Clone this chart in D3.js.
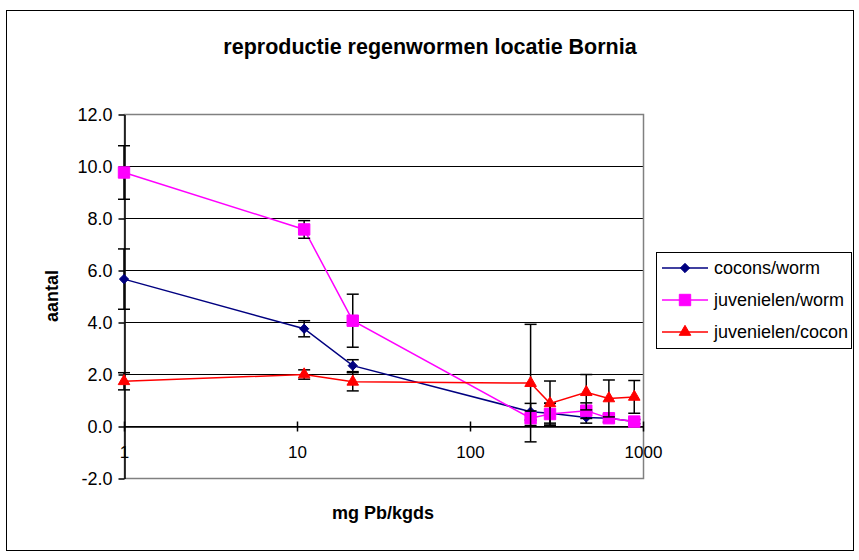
<!DOCTYPE html>
<html>
<head>
<meta charset="utf-8">
<script src="https://cdn.jsdelivr.net/npm/d3@7"></script>
<style>
  html, body { margin: 0; padding: 0; background: #fff; }
  svg text { font-family: Arial, "Liberation Sans", sans-serif; fill: #000; }
</style>
</head>
<body>
<svg id="chart" width="859" height="560"></svg>
<script>
// Lead concentration (mg Pb/kg dry soil) per sample
const concentrations = [1, 11, 21, 224, 290, 470, 635, 890];

// Mean counts and standard deviations per series
const coconsPerWorm      = [5.65, 3.74, 2.32, 0.55, 0.49, 0.33, 0.30, 0.17];
const coconsPerWormSd    = [1.16, 0.31, 0.23, 0.32, 0.38, 0.22, 0.15, 0.08];
const juvenilesPerWorm   = [9.75, 7.56, 4.05, 0.30, 0.46, 0.59, 0.30, 0.17];
const juvenilesPerWormSd = [1.03, 0.34, 1.02, 0.28, 0.42, 0.30, 0.15, 0.08];
const juvenilesPerCocon  = [1.72, 1.98, 1.70, 1.65, 0.87, 1.30, 1.06, 1.12];
const juvenilesPerCoconSd= [0.33, 0.18, 0.35, 2.26, 0.86, 0.68, 0.71, 0.63];

const seriesNames = ["cocons/worm", "juvenielen/worm", "juvenielen/cocon"];
const yTicks = [-2, 0, 2, 4, 6, 8, 10, 12];
const xTicks = [1, 10, 100, 1000];

const series = [
  { name: seriesNames[0], values: coconsPerWorm,    sd: coconsPerWormSd,     color: "#000080", symbol: d3.symbolDiamond2, size: 55 },
  { name: seriesNames[1], values: juvenilesPerWorm, sd: juvenilesPerWormSd,  color: "#FF00FF", symbol: d3.symbolSquare,  size: 130 },
  { name: seriesNames[2], values: juvenilesPerCocon,sd: juvenilesPerCoconSd, color: "#FF0000", symbol: d3.symbolTriangle, size: 58 }
];

const svg = d3.select("#chart");
const plot = { left: 124, right: 643, top: 114, bottom: 478 };

const x = d3.scaleLog().domain([1, 1000]).range([plot.left, plot.right]);
const y = d3.scaleLinear().domain([-2, 12]).range([plot.bottom, plot.top]);

// Chart area frame
svg.append("rect")
  .attr("x", 6.5).attr("y", 10.5).attr("width", 847).attr("height", 540)
  .attr("fill", "#fff").attr("stroke", "#000").attr("stroke-width", 1);

// Title
svg.append("text")
  .attr("x", 430).attr("y", 54)
  .attr("text-anchor", "middle")
  .style("font-size", "21.5px").style("font-weight", "bold")
  .text("reproductie regenwormen locatie Bornia");

// Horizontal gridlines
svg.append("g").selectAll("line")
  .data(yTicks.filter(t => t > -2 && t < 12))
  .join("line")
  .attr("x1", plot.left).attr("x2", plot.right)
  .attr("y1", d => Math.round(y(d)) + 0.5).attr("y2", d => Math.round(y(d)) + 0.5)
  .attr("stroke", "#000").attr("stroke-width", 1);

// Plot area border
svg.append("rect")
  .attr("x", plot.left + 0.5).attr("y", plot.top + 0.5)
  .attr("width", plot.right - plot.left).attr("height", plot.bottom - plot.top)
  .attr("fill", "none").attr("stroke", "#808080").attr("stroke-width", 1.5);

// Y axis
const yAxis = svg.append("g")
  .attr("transform", `translate(${plot.left + 0.5},0.5)`)
  .call(d3.axisLeft(y).tickValues(yTicks).tickFormat(d => d.toFixed(1)).tickSizeInner(6).tickSizeOuter(0).tickPadding(6));
yAxis.select(".domain").attr("stroke", "#000").attr("stroke-width", 1.5);
yAxis.selectAll(".tick line").attr("stroke", "#000").attr("stroke-width", 1.5);
yAxis.selectAll("text").style("font-size", "18px").style("font-family", "Arial, 'Liberation Sans', sans-serif");

// X axis at y = 0, ticks crossing the line
const xAxis = svg.append("g")
  .attr("transform", `translate(0,${Math.round(y(0)) + 0.5})`)
  .call(d3.axisBottom(x).tickValues(xTicks).tickFormat(d3.format("d")).tickSizeInner(5).tickSizeOuter(0).tickPadding(14));
xAxis.select(".domain").attr("stroke", "#000").attr("stroke-width", 1.5);
xAxis.selectAll(".tick line").attr("y1", -5).attr("y2", 5).attr("stroke", "#000").attr("stroke-width", 1.5);
xAxis.selectAll("text").style("font-size", "17px").style("font-family", "Arial, 'Liberation Sans', sans-serif");

// Axis titles
svg.append("text")
  .attr("transform", "translate(58,296) rotate(-90)")
  .attr("text-anchor", "middle")
  .style("font-size", "18px").style("font-weight", "bold")
  .text("aantal");
svg.append("text")
  .attr("x", 383).attr("y", 519)
  .attr("text-anchor", "middle")
  .style("font-size", "18px").style("font-weight", "bold")
  .text("mg Pb/kgds");

// Series: lines, error bars, markers
const line = d3.line().x(d => x(d.c)).y(d => y(d.v));
const capHalf = 6;

series.forEach(s => {
  const pts = concentrations.map((c, i) => ({ c, v: s.values[i], e: s.sd[i] }));
  const g = svg.append("g");

  g.append("path")
    .datum(pts)
    .attr("d", line)
    .attr("fill", "none").attr("stroke", s.color).attr("stroke-width", 1.5);

  const eb = g.append("g").selectAll("g").data(pts).join("g");
  eb.append("line")
    .attr("x1", d => x(d.c)).attr("x2", d => x(d.c))
    .attr("y1", d => y(d.v + d.e)).attr("y2", d => y(d.v - d.e))
    .attr("stroke", "#000").attr("stroke-width", 1.5);
  eb.append("line")
    .attr("x1", d => x(d.c) - capHalf).attr("x2", d => x(d.c) + capHalf)
    .attr("y1", d => y(d.v + d.e)).attr("y2", d => y(d.v + d.e))
    .attr("stroke", "#000").attr("stroke-width", 1.5);
  eb.append("line")
    .attr("x1", d => x(d.c) - capHalf).attr("x2", d => x(d.c) + capHalf)
    .attr("y1", d => y(d.v - d.e)).attr("y2", d => y(d.v - d.e))
    .attr("stroke", "#000").attr("stroke-width", 1.5);

  g.append("g").selectAll("path").data(pts).join("path")
    .attr("transform", d => `translate(${x(d.c)},${y(d.v)})`)
    .attr("d", d3.symbol().type(s.symbol).size(s.size))
    .attr("fill", s.color).attr("stroke", s.color).attr("stroke-width", 1);
});

// Legend
const legend = svg.append("g");
legend.append("rect")
  .attr("x", 656.5).attr("y", 252.5).attr("width", 195).attr("height", 96)
  .attr("fill", "#fff").attr("stroke", "#000").attr("stroke-width", 1);
series.forEach((s, i) => {
  const cy = 268 + i * 32;
  legend.append("line")
    .attr("x1", 662).attr("x2", 708).attr("y1", cy).attr("y2", cy)
    .attr("stroke", s.color).attr("stroke-width", 1.5);
  legend.append("path")
    .attr("transform", `translate(685,${cy})`)
    .attr("d", d3.symbol().type(s.symbol).size(s.size))
    .attr("fill", s.color).attr("stroke", s.color);
  legend.append("text")
    .attr("x", 714).attr("y", cy).attr("dy", "0.35em")
    .style("font-size", "18px")
    .text(s.name);
});
</script>
</body>
</html>
